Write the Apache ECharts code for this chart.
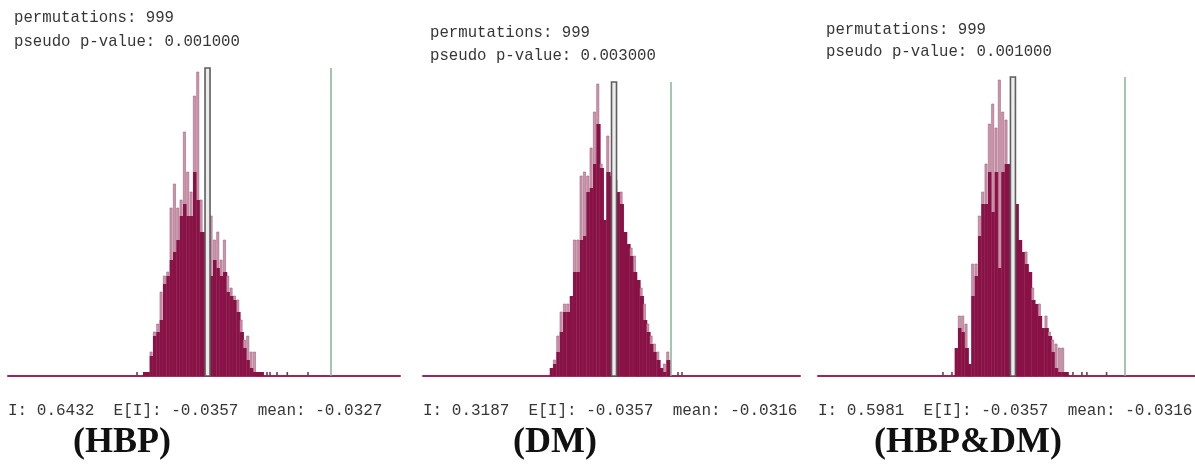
<!DOCTYPE html>
<html lang="en">
<head>
<meta charset="utf-8">
<title>Moran's I permutation tests</title>
<style>
  html, body { margin: 0; padding: 0; background: #fff; }
  #main { width: 1195px; height: 467px; }
</style>
</head>
<body>
<div id="main"></div>
<script src="https://cdn.jsdelivr.net/npm/echarts@6/dist/echarts.min.js"></script>
<script>
// panel facts
var panelNames = ['(HBP)', '(DM)', '(HBP&DM)'];
var moranI = [0.6432, 0.3187, 0.5981];
var expectedI = [-0.0357, -0.0357, -0.0357];
var meanI = [-0.0327, -0.0316, -0.0316];
var permutations = [999, 999, 999];
var pseudoP = ['0.001000', '0.003000', '0.001000'];

// histogram bins: start (I value) and width of each bin
var binStart = [-0.3872, -0.4372, -0.3669];
var binWidth = [0.01825, 0.02091, 0.01903];

// counts per bin: solid part and the lighter peak above it
var hbpDark = [1,1,5,10,11,14,23,25,29,31,34,40,43,40,40,51,44,36,36,36,25,29,27,25,26,21,20,19,16,11,7,4,2,1,1,1];
var hbpPeak = [1,1,6,11,13,21,25,26,42,48,42,44,61,51,46,70,76,44,36,36,40,34,36,29,34,25,22,20,19,14,9,10,6,6,1,1];
var hbpStray = [-0.4217, 0.2901, 0.3065, 0.3448, 0.4010, 0.5145];

var dmDark = [2,3,6,11,16,16,20,26,26,34,35,46,47,53,63,52,39,51,50,49,46,43,36,33,30,26,24,20,14,11,8,6,4,2,1,4];
var dmPeak = [2,4,10,16,18,18,20,34,34,50,51,50,57,66,73,53,39,60,50,49,46,46,36,33,32,30,24,22,18,13,10,8,6,2,3,6];
var dmStray = [0.3658, 0.3909];

var bothDark = [7,12,11,7,3,20,25,35,43,43,51,41,51,27,51,53,53,53,43,34,31,28,26,19,18,15,12,12,10,6,2,1,1,1];
var bothPeak = [7,15,15,13,3,28,28,40,46,53,63,68,62,74,66,64,53,53,43,34,31,31,26,22,18,18,12,15,11,9,8,7,7,1];
var bothStray = [-0.4354, -0.3840, 0.3069, 0.3583, 0.3868, 0.4990];

// axis ranges
var xMin = [-1.128, -1.234, -1.149];
var xMax = [1.018, 1.131, 1.004];
var yMax = [77, 73.5, 74.75];

var darkList = [hbpDark, dmDark, bothDark];
var peakList = [hbpPeak, dmPeak, bothPeak];
var strayList = [hbpStray, dmStray, bothStray];

var DARK = '#8a1146';
var PINK = '#de8db0';

var grids = [
    {left: 8, width: 392, top: 68, bottom: 91},
    {left: 423, width: 377, top: 82, bottom: 91},
    {left: 818, width: 377, top: 77, bottom: 91}
];

function renderBin(params, api) {
    var x0 = api.value(0), x1 = api.value(1);
    var dark = api.value(2), peak = api.value(3);
    var base = api.coord([x0, 0]);
    var right = api.coord([x1, 0])[0];
    var w = right - base[0];
    var kids = [];
    if (peak > dark) {
        var pt = api.coord([x0, peak]);
        kids.push({
            type: 'rect',
            shape: {x: base[0], y: pt[1], width: Math.max(w * 0.65, 1.6), height: base[1] - pt[1]},
            style: {fill: PINK, stroke: '#8c6d78', lineWidth: 0.6}
        });
    }
    var dt = api.coord([x0, dark]);
    kids.push({
        type: 'rect',
        shape: {x: base[0] - 0.3, y: dt[1], width: w + 0.9, height: base[1] - dt[1]},
        style: {fill: DARK}
    });
    return {type: 'group', children: kids};
}

function renderStray(params, api) {
    var p0 = api.coord([api.value(0), 0]);
    var p1 = api.coord([api.value(0), api.value(1)]);
    return {
        type: 'rect',
        shape: {x: p0[0] - 0.8, y: p1[1], width: 1.6, height: p0[1] - p1[1]},
        style: {fill: '#6a3a52'}
    };
}

function renderMean(params, api) {
    var p0 = api.coord([api.value(0), 0]);
    var p1 = api.coord([api.value(0), api.value(1)]);
    return {
        type: 'rect',
        shape: {x: p0[0] - 2.5, y: p1[1], width: 5, height: p0[1] - p1[1]},
        style: {fill: '#ececec', stroke: '#5e5e5e', lineWidth: 1.6}
    };
}

var xAxes = [], yAxes = [], series = [], graphic = [];
var textLeft = [14, 430, 826];
var textTop = [[19, 43], [34, 57], [31, 53]];
var nameCenter = [122, 555, 968];

for (var p = 0; p < 3; p++) {
    xAxes.push({
        gridIndex: p, type: 'value', min: xMin[p], max: xMax[p],
        axisLine: {show: true, onZero: false, lineStyle: {color: '#9c2656', width: 2}},
        axisTick: {show: false}, axisLabel: {show: false}, splitLine: {show: false}
    });
    yAxes.push({
        gridIndex: p, type: 'value', min: 0, max: yMax[p], show: false
    });

    var bins = [];
    for (var i = 0; i < darkList[p].length; i++) {
        var a = binStart[p] + i * binWidth[p];
        bins.push([a, a + binWidth[p], darkList[p][i], peakList[p][i]]);
    }
    series.push({
        type: 'custom', xAxisIndex: p, yAxisIndex: p,
        renderItem: renderBin, data: bins,
        encode: {x: [0, 1], y: [2, 3]},
        silent: true, z: 2,
        markLine: {
            silent: true, symbol: 'none',
            label: {show: false},
            lineStyle: {color: '#86b293', width: 1.5, type: 'solid'},
            data: [{xAxis: moranI[p]}]
        }
    });
    series.push({
        type: 'custom', xAxisIndex: p, yAxisIndex: p,
        renderItem: renderStray,
        data: strayList[p].map(function (v) { return [v, 1]; }),
        silent: true, z: 2
    });
    series.push({
        type: 'custom', xAxisIndex: p, yAxisIndex: p,
        renderItem: renderMean,
        data: [[expectedI[p], yMax[p]]],
        silent: true, z: 3
    });

    var monoFamily = '"Liberation Mono", "DejaVu Sans Mono", monospace';
    graphic.push({
        type: 'text', left: textLeft[p], top: textTop[p][0] - 9,
        style: {text: 'permutations: ' + permutations[p], fontFamily: monoFamily, fontSize: 15.7, fill: '#363636'}
    });
    graphic.push({
        type: 'text', left: textLeft[p], top: textTop[p][1] - 9,
        style: {text: 'pseudo p-value: ' + pseudoP[p], fontFamily: monoFamily, fontSize: 15.7, fill: '#363636'}
    });
    graphic.push({
        type: 'text', left: grids[p].left, top: 403,
        style: {
            text: 'I: ' + moranI[p].toFixed(4) + '  E[I]: ' + expectedI[p].toFixed(4) + '  mean: ' + meanI[p].toFixed(4),
            fontFamily: monoFamily, fontSize: 16, fill: '#363636'
        }
    });
    graphic.push({
        type: 'text', x: nameCenter[p], y: 443,
        style: {
            text: panelNames[p], fontFamily: '"Liberation Serif", "DejaVu Serif", serif',
            fontWeight: 'bold', fontSize: 36, fill: '#111',
            textAlign: 'center', textVerticalAlign: 'middle'
        }
    });
}

var myChart = echarts.init(document.getElementById('main'));
myChart.setOption({
    backgroundColor: '#ffffff',
    animation: false,
    grid: grids,
    xAxis: xAxes,
    yAxis: yAxes,
    series: series,
    graphic: graphic
});
</script>
</body>
</html>
